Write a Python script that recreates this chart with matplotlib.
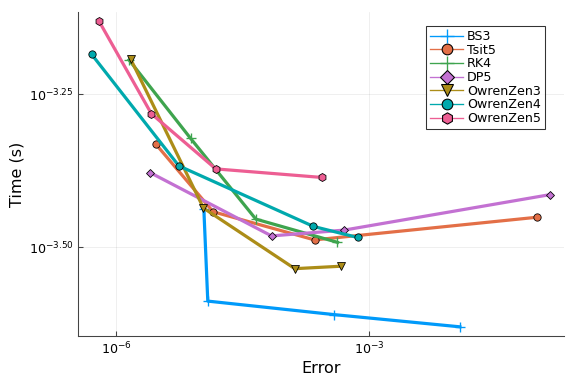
import numpy as np
import matplotlib
matplotlib.use('Agg')
import matplotlib.pyplot as plt
from matplotlib.lines import Line2D

# log10 of error and time
bs3_err = [-4.958, -4.911, -3.415, -1.918]
bs3_time = [-3.437, -3.588, -3.610, -3.630]
tsit5_err = [-5.525, -4.848, -3.644, -1.004]
tsit5_time = [-3.332, -3.442, -3.488, -3.451]
rk4_err = [-5.846, -5.116, -4.341, -3.371]
rk4_time = [-3.194, -3.322, -3.454, -3.492]
dp5_err = [-5.596, -4.154, -3.292, -0.846]
dp5_time = [-3.378, -3.4815, -3.472, -3.414]
oz3_err = [-5.825, -4.962, -3.878, -3.331]
oz3_time = [-3.193, -3.436, -3.535, -3.531]
oz4_err = [-6.289, -5.255, -3.656, -3.133]
oz4_time = [-3.185, -3.367, -3.466, -3.484]
oz5_err = [-6.205, -5.580, -4.816, -3.553]
oz5_time = [-3.130, -3.282, -3.372, -3.386]

names = ['BS3', 'Tsit5', 'RK4', 'DP5', 'OwrenZen3', 'OwrenZen4', 'OwrenZen5']
errs = [bs3_err, tsit5_err, rk4_err, dp5_err, oz3_err, oz4_err, oz5_err]
times = [bs3_time, tsit5_time, rk4_time, dp5_time, oz3_time, oz4_time, oz5_time]
colors = ['#009AFA', '#E36F47', '#3EA44E', '#C371D2', '#AC8D18', '#00A9AD', '#ED5E93']
markers = ['+', 'o', '+', 'D', 'v', 'o', 'h']
msizes = [7, 5.5, 7, 4.5, 6.5, 5.5, 6]

fig = plt.figure(figsize=(6, 4), dpi=96)
ax = fig.add_axes([0.1354, 0.125, 0.979 - 0.1354, 0.969 - 0.125])

handles = []
for name, e, t, c, m, ms in zip(names, errs, times, colors, markers, msizes):
    x = 10 ** np.array(e)
    y = 10 ** np.array(t)
    if m == '+':
        ax.plot(x, y, color=c, lw=2.4, marker=m, ms=ms, mew=1.0, mec=c)
        handles.append(Line2D([], [], color=c, lw=1, marker=m, ms=10, mew=1.0, mec=c, label=name))
    else:
        ax.plot(x, y, color=c, lw=2.4, marker=m, ms=ms, mew=0.6, mec='black', mfc=c)
        handles.append(Line2D([], [], color=c, lw=1, marker=m, ms=ms + 2.5, mew=0.8, mec='black', mfc=c, label=name))

ax.set_xscale('log')
ax.set_yscale('log')
ax.set_xlim(10 ** -6.452, 10 ** -0.683)
ax.set_ylim(10 ** -3.645, 10 ** -3.1155)

ax.set_xticks([1e-6, 1e-3])
ax.set_xticklabels([r'$10^{-6}$', r'$10^{-3}$'])
ax.set_yticks([10 ** -3.25, 10 ** -3.5])
ax.set_yticklabels([r'$10^{-3.25}$', r'$10^{-3.50}$'])
ax.xaxis.set_minor_locator(matplotlib.ticker.NullLocator())
ax.yaxis.set_minor_locator(matplotlib.ticker.NullLocator())
ax.tick_params(direction='in', length=4, labelsize=9.5, color='#444444')

ax.grid(True, color='black', alpha=0.08, lw=0.6)
ax.spines['top'].set_visible(False)
ax.spines['right'].set_visible(False)
ax.spines['left'].set_color('#444444')
ax.spines['bottom'].set_color('#444444')

ax.set_xlabel('Error', fontsize=12, labelpad=3)
ax.set_ylabel('Time (s)', fontsize=12, labelpad=3)

leg = ax.legend(handles=handles, loc='upper right', bbox_to_anchor=(0.9735, 0.975), fontsize=9.5,
                frameon=True, fancybox=False, edgecolor='black', handlelength=2.6,
                labelspacing=0.05, borderpad=0.3, handletextpad=0.3)
leg.get_frame().set_linewidth(0.8)

fig.savefig('out.png', dpi=96)
